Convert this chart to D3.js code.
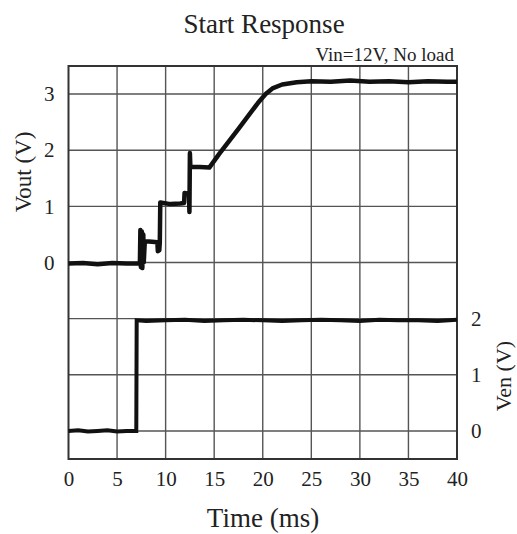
<!DOCTYPE html>
<html>
<head>
<meta charset="utf-8">
<script src="https://cdn.jsdelivr.net/npm/d3@7"></script>
<style>
  body { margin: 0; background: #fff; }
  text { font-family: "Liberation Serif", "Times New Roman", serif; fill: #222; }
</style>
</head>
<body>
<div id="chart"></div>
<script>
var width = 517, height = 534;
var margin = { top: 66, right: 60, bottom: 75, left: 68.5 };

// x ticks (ms)
var timeTicks = [0, 5, 10, 15, 20, 25, 30, 35, 40];
var voutTicks = [0, 1, 2, 3];
var venTicks = [0, 1, 2];

// Vout trace (time ms, volts)
var voutTime = [0, 1.5, 3, 4.5, 6, 7.35, 7.4, 7.45, 7.55, 7.6, 7.7, 7.75, 7.85, 7.9, 8.6, 9.15, 9.2, 9.35, 9.4, 9.45,
  10.5, 11.5, 11.9, 11.95, 12.4, 12.45, 12.5, 12.55, 12.6, 13.5, 14.5, 15.5, 17.5, 19.5, 20.3, 21.0, 22.0, 23.5,
  25, 27, 29, 31, 33, 35, 37, 39, 40];
var voutValue = [-0.02, -0.01, -0.03, -0.01, -0.02, -0.02, 0.58, -0.08, 0.55, -0.1, 0.5, 0.0, 0.36, 0.38, 0.37, 0.36, 0.2, 0.22, 0.36, 1.07,
  1.04, 1.05, 1.06, 1.24, 1.22, 0.9, 1.95, 1.68, 1.7, 1.7, 1.69, 1.93, 2.38, 2.84, 3.0, 3.1, 3.17, 3.21,
  3.23, 3.22, 3.24, 3.22, 3.23, 3.21, 3.23, 3.22, 3.22];

// Ven trace (time ms, volts)
var venTime = [0, 1, 2, 3, 4, 5, 6, 6.98, 7.02, 8, 10, 12, 14, 16, 18, 20, 22, 24, 26, 28, 30, 32, 34, 36, 38, 40];
var venValue = [0, 0.01, -0.01, 0, 0.01, -0.01, 0, 0, 1.97, 1.96, 1.97, 1.98, 1.96, 1.97, 1.98, 1.97, 1.96, 1.97, 1.98, 1.97, 1.96, 1.98, 1.97, 1.97, 1.96, 1.98];

var svg = d3.select("#chart").append("svg")
  .attr("width", width)
  .attr("height", height);

var x = d3.scaleLinear().domain([0, 40]).range([margin.left, width - margin.right]);
var yVout = d3.scaleLinear().domain([-3.5, 3.5]).range([height - margin.bottom, margin.top]);
var yVen = d3.scaleLinear().domain([-0.5, 6.5]).range([height - margin.bottom, margin.top]);

//grid lines
var grid = svg.append("g").attr("class", "grid");
grid.selectAll("line.v")
  .data(timeTicks.slice(1, -1))
  .enter().append("line")
  .attr("x1", d => x(d)).attr("x2", d => x(d))
  .attr("y1", margin.top).attr("y2", height - margin.bottom)
  .attr("stroke", "#555").attr("stroke-width", 1.4);
grid.selectAll("line.h")
  .data(d3.range(-3, 4))
  .enter().append("line")
  .attr("y1", d => yVout(d)).attr("y2", d => yVout(d))
  .attr("x1", margin.left).attr("x2", width - margin.right)
  .attr("stroke", "#555").attr("stroke-width", 1.4);

svg.append("rect")
  .attr("x", margin.left).attr("y", margin.top)
  .attr("width", width - margin.right - margin.left)
  .attr("height", height - margin.bottom - margin.top)
  .attr("fill", "none").attr("stroke", "#333").attr("stroke-width", 2);

// axes
var xAxis = svg.append("g")
  .attr("transform", "translate(0," + (height - margin.bottom) + ")")
  .call(d3.axisBottom(x).tickValues(timeTicks).tickFormat(d3.format("d")).tickSize(0).tickPadding(12));
xAxis.select(".domain").remove();
xAxis.selectAll("text").style("font-size", "21px").style("font-family", "Liberation Serif").attr("fill", "#222");

var yAxisL = svg.append("g")
  .attr("transform", "translate(" + margin.left + ",0)")
  .call(d3.axisLeft(yVout).tickValues(voutTicks).tickFormat(d3.format("d")).tickSize(0).tickPadding(14));
yAxisL.select(".domain").remove();
yAxisL.selectAll("text").style("font-size", "21px").style("font-family", "Liberation Serif").attr("fill", "#222");

var yAxisR = svg.append("g")
  .attr("transform", "translate(" + (width - margin.right) + ",0)")
  .call(d3.axisRight(yVen).tickValues(venTicks).tickFormat(d3.format("d")).tickSize(0).tickPadding(14));
yAxisR.select(".domain").remove();
yAxisR.selectAll("text").style("font-size", "21px").style("font-family", "Liberation Serif").attr("fill", "#222");

// traces
var voutLine = d3.line()
  .x((d, i) => x(voutTime[i]))
  .y(d => yVout(d));
var venLine = d3.line()
  .x((d, i) => x(venTime[i]))
  .y(d => yVen(d));

svg.append("path")
  .datum(venValue)
  .attr("d", venLine)
  .attr("fill", "none").attr("stroke", "#111").attr("stroke-width", 4)
  .attr("stroke-linejoin", "miter");

svg.append("path")
  .datum(voutValue)
  .attr("d", voutLine)
  .attr("fill", "none").attr("stroke", "#111").attr("stroke-width", 4.5)
  .attr("stroke-linejoin", "round");

// titles
svg.append("text")
  .attr("x", 264).attr("y", 33)
  .attr("text-anchor", "middle")
  .style("font-size", "27px")
  .text("Start Response");

svg.append("text")
  .attr("x", width - margin.right - 3).attr("y", 61)
  .attr("text-anchor", "end")
  .style("font-size", "19px")
  .text("Vin=12V, No load");

svg.append("text")
  .attr("x", 263).attr("y", 527)
  .attr("text-anchor", "middle")
  .style("font-size", "27px")
  .text("Time (ms)");

svg.append("text")
  .attr("transform", "translate(31,172) rotate(-90)")
  .attr("text-anchor", "middle")
  .style("font-size", "23px")
  .text("Vout (V)");

svg.append("text")
  .attr("transform", "translate(511,376) rotate(-90)")
  .attr("text-anchor", "middle")
  .style("font-size", "22px")
  .text("Ven (V)");
</script>
</body>
</html>
